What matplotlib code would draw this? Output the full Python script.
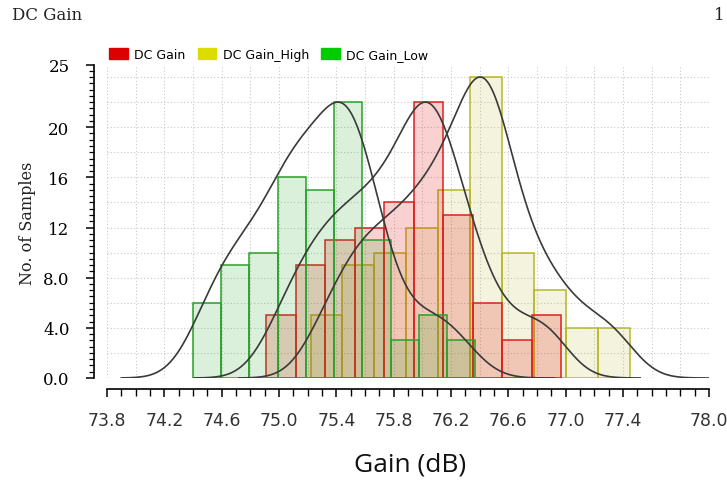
import numpy as np
import matplotlib
matplotlib.use("Agg")
import matplotlib.pyplot as plt
from matplotlib.patches import Patch

# histogram counts (10 bins each) and the range the bins cover
gain_counts = [5, 9, 11, 12, 14, 22, 13, 6, 3, 5]
gain_range = [74.91, 76.97]
high_counts = [5, 9, 10, 12, 15, 24, 10, 7, 4, 4]
high_range = [75.22, 77.45]
low_counts = [6, 9, 10, 16, 15, 22, 11, 3, 5, 3]
low_range = [74.40, 76.37]

series_names = ["DC Gain", "DC Gain_High", "DC Gain_Low"]

x_ticks = [73.8, 74.2, 74.6, 75.0, 75.4, 75.8, 76.2, 76.6, 77.0, 77.4, 78.0]
y_ticks = [0, 4, 8, 12, 16, 20, 25]
y_tick_labels = ["0.0", "4.0", "8.0", "12", "16", "20", "25"]

W, H = 727, 489
fig = plt.figure(figsize=(W / 100, H / 100), dpi=100)
ax = fig.add_axes([107 / W, (H - 379) / H, 602 / W, 313.5 / H])

# dotted grid
for v in np.arange(73.8, 78.01, 0.2):
    ax.axvline(v, color="#c8c8c8", ls=(0, (1, 2)), lw=0.8, zorder=0)
for h in range(2, 25, 2):
    ax.axhline(h, color="#c8c8c8", ls=(0, (1, 2)), lw=0.8, zorder=0)


def kde(counts, rng, xs, bw=0.17):
    edges = np.linspace(rng[0], rng[1], len(counts) + 1)
    centers = (edges[:-1] + edges[1:]) / 2
    dens = np.zeros_like(xs)
    for c, n in zip(centers, counts):
        dens += n * np.exp(-0.5 * ((xs - c) / bw) ** 2)
    return dens / dens.max() * max(counts)


styles = [
    (high_counts, high_range, (0.72, 0.72, 0.25, 0.17), "#b8b828"),
    (gain_counts, gain_range, (0.9, 0.0, 0.0, 0.18), "#dd2020"),
    (low_counts, low_range, (0.1, 0.65, 0.1, 0.16), "#2aa02a"),
]
for counts, rng, face, edge in styles:
    edges = np.linspace(rng[0], rng[1], len(counts) + 1)
    ax.bar(edges[:-1], counts, width=np.diff(edges), align="edge",
           facecolor=face, edgecolor=edge, linewidth=1.1, zorder=2)

for counts, rng, _, _ in styles:
    xs = np.linspace(rng[0] - 0.5, rng[1] + 0.55, 300)
    ax.plot(xs, kde(counts, rng, xs), color="#3a3a3a", lw=1.2, zorder=3)

ax.set_xlim(73.8, 78.0)
ax.set_ylim(0, 25)
for s in ["top", "right"]:
    ax.spines[s].set_visible(False)
ax.spines["bottom"].set_position(("outward", 8))
ax.spines["left"].set_position(("outward", 9))
ax.spines["bottom"].set_linewidth(1.2)
ax.spines["left"].set_linewidth(1.2)

ax.set_xticks(x_ticks)
ax.set_xticklabels([f"{t:.1f}" for t in x_ticks])
ax.set_xticks(np.arange(73.8, 78.01, 0.1), minor=True)
ax.set_yticks(y_ticks)
ax.set_yticklabels(y_tick_labels)
ax.set_yticks(np.arange(0, 25.01, 0.5), minor=True)
ax.tick_params(axis="x", which="major", length=6, width=1.1, pad=10, labelsize=12.5)
ax.tick_params(axis="x", which="minor", length=5, width=1.0)
ax.tick_params(axis="y", which="major", length=6, width=1.1, pad=12, labelsize=12)
ax.tick_params(axis="y", which="minor", length=3.5, width=0.9)
for lab in ax.get_yticklabels():
    lab.set_family("DejaVu Serif")
for lab in ax.get_xticklabels():
    lab.set_color("#333333")

handles = [Patch(color="#dd0000"), Patch(color="#dcdc00"), Patch(color="#00cc00")]
ax.legend(handles, series_names, loc="lower left", bbox_to_anchor=(-0.003, 1.0),
          ncol=3, frameon=False, fontsize=9, handlelength=1.5, handleheight=0.9,
          handletextpad=0.5, columnspacing=1.0, borderaxespad=0.1, borderpad=0.2)

fig.text(12 / W, 1 - 15 / H, "DC Gain", family="DejaVu Serif", fontsize=12,
         va="center", ha="left", color="#222222")
fig.text(714 / W, 1 - 15 / H, "1", family="DejaVu Serif", fontsize=12,
         va="center", ha="left", color="#222222")
fig.text(27 / W, 1 - 223 / H, "No. of Samples", family="DejaVu Serif", fontsize=11.5,
         rotation=90, va="center", ha="center", color="#222222")
fig.text(410 / W, 1 - 465 / H, "Gain (dB)", family="Open Sans", fontsize=19,
         va="center", ha="center", color="#111111")

fig.savefig("out.png", dpi=100)
